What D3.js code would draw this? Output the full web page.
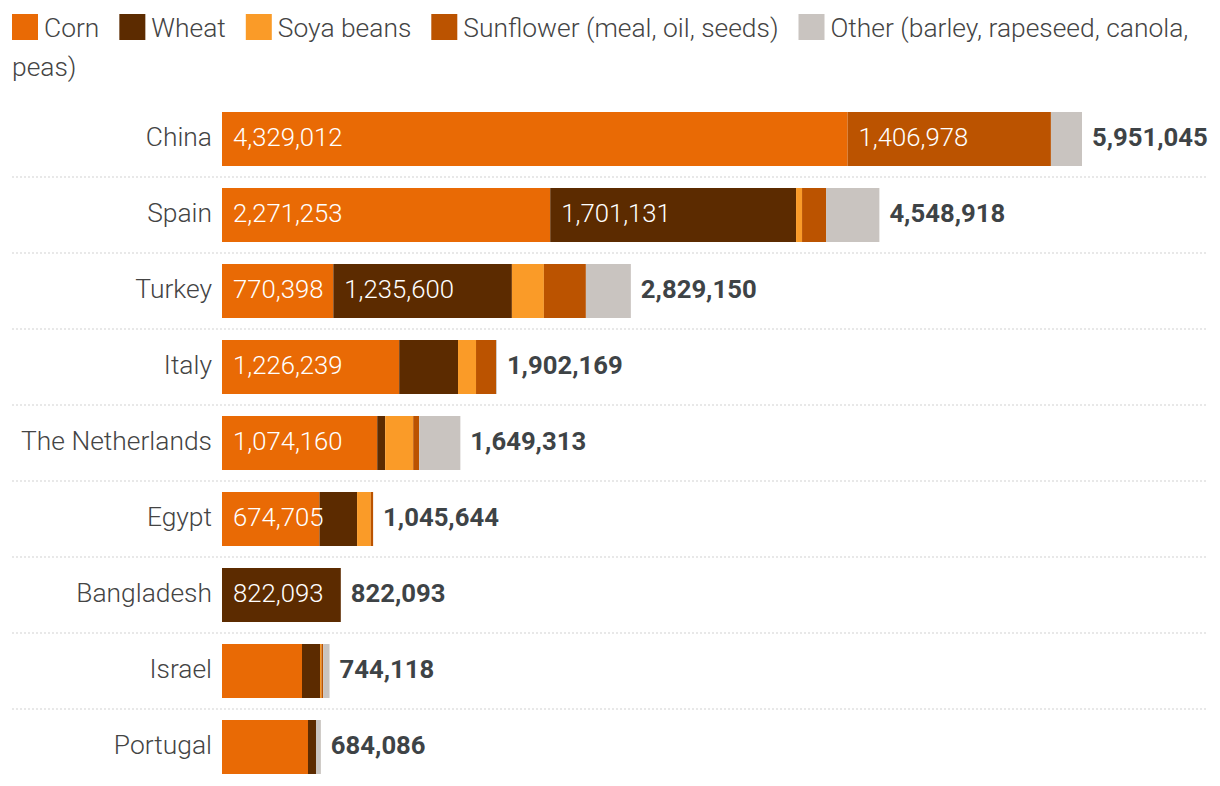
<!DOCTYPE html>
<html>
<head>
<meta charset="utf-8">
<script src="https://cdn.jsdelivr.net/npm/d3@7"></script>
<style>
  html, body { margin: 0; padding: 0; background: #fff; }
  svg { display: block; font-family: Roboto, "Noto Sans", sans-serif; }
</style>
</head>
<body>
<svg id="chart" width="1220" height="786"></svg>
<script>
const countries = ["China", "Spain", "Turkey", "Italy", "The Netherlands", "Egypt", "Bangladesh", "Israel", "Portugal"];
const seriesNames = ["Corn", "Wheat", "Soya beans", "Sunflower (meal, oil, seeds)", "Other (barley, rapeseed, canola, peas)"];
const seriesColors = ["#e96a05", "#5c2b00", "#fa9b28", "#bb5300", "#c9c4c0"];
const corn      = [4329012, 2271253,  770398, 1226239, 1074160, 674705,      0, 553600, 595000];
const wheat     = [      0, 1701131, 1235600,  407000,   55000, 260000, 822093, 124600,  55400];
const soya      = [      0,   41500,  221400,  124600,  193800,  95000,      0,  10000,      0];
const sunflower = [1406978,  166000,  290600,  138400,   41500,  15939,      0,  12000,      0];
const other     = [ 215055,  369034,  311152,    5930,  284853,      0,      0,  43918,  33686];
const totals    = [5951045, 4548918, 2829150, 1902169, 1649313, 1045644, 822093, 744118, 684086];

const seriesValues = [corn, wheat, soya, sunflower, other];
const keys = ["corn", "wheat", "soya", "sunflower", "other"];
const rows = countries.map((c, i) => {
  const r = { country: c, total: totals[i] };
  keys.forEach((k, j) => r[k] = seriesValues[j][i]);
  return r;
});

const svg = d3.select("#chart");
const fmt = d3.format(",");
const FS_TXT = 26.4;
const FS_NUM = 25.7;
const DY = "0.26em";

// ---- Legend with wrapping ----
const legend = svg.append("g").attr("class", "legend");
const maxX = 1208;
let cx = 12, line = 0;
const lineH = 39, sw = 26, baseY = 14;
function measure(t) {
  const tmp = legend.append("text").attr("font-size", FS_TXT).attr("font-weight", 300).text(t);
  const w = tmp.node().getComputedTextLength();
  tmp.remove();
  return w;
}
function addText(xp, yp, t) {
  legend.append("text").attr("x", xp).attr("y", yp)
    .attr("font-size", FS_TXT).attr("font-weight", 300).attr("fill", "#444").text(t);
}
seriesNames.forEach((name, i) => {
  if (cx + sw + 6 + measure(name.split(" ")[0]) > maxX) { cx = 12; line++; }
  legend.append("rect")
    .attr("x", cx).attr("y", baseY + line * lineH)
    .attr("width", sw).attr("height", sw)
    .attr("fill", seriesColors[i]);
  cx += sw + 6;
  const words = name.split(" ");
  let current = "";
  let startX = cx;
  words.forEach(w => {
    const trial = current ? current + " " + w : w;
    if (startX + measure(trial) > maxX && current) {
      addText(startX, baseY + line * lineH + 23, current);
      line++; startX = 12; current = w;
    } else {
      current = trial;
    }
  });
  addText(startX, baseY + line * lineH + 23, current);
  cx = startX + measure(current) + 20;
});

// ---- Scales ----
const x = d3.scaleLinear().domain([0, d3.max(totals)]).range([222, 1082]);
const y = d3.scaleBand().domain(countries).range([101, 785])
  .paddingInner(22 / 76).paddingOuter(11 / 76);

// separators
svg.append("g").selectAll("line")
  .data(countries.slice(1))
  .join("line")
  .attr("x1", 12).attr("x2", 1208)
  .attr("y1", d => y(d) - y.step() * (22 / 76) / 2)
  .attr("y2", d => y(d) - y.step() * (22 / 76) / 2)
  .attr("stroke", "#d2d2d2").attr("stroke-width", 1.2)
  .attr("stroke-dasharray", "2,2");

// stacked bars
const stack = d3.stack().keys(keys);
const stacked = stack(rows);
const gBars = svg.append("g");
stacked.forEach((layer, li) => {
  gBars.append("g").attr("fill", seriesColors[li])
    .selectAll("rect")
    .data(layer)
    .join("rect")
    .attr("x", d => x(d[0]))
    .attr("y", d => y(d.data.country))
    .attr("width", d => Math.max(0, x(d[1]) - x(d[0])))
    .attr("height", y.bandwidth());
});

// inside labels
stacked.forEach((layer, li) => {
  gBars.append("g")
    .selectAll("text")
    .data(layer.filter(d => x(d[1]) - x(d[0]) > 90))
    .join("text")
    .attr("x", d => x(d[0]) + 11)
    .attr("y", d => y(d.data.country) + y.bandwidth() / 2)
    .attr("dy", DY)
    .attr("font-size", FS_NUM).attr("font-weight", 300)
    .attr("fill", "#fff")
    .text(d => fmt(d[1] - d[0]));
});

// category labels
svg.append("g").selectAll("text")
  .data(rows)
  .join("text")
  .attr("x", 212)
  .attr("y", d => y(d.country) + y.bandwidth() / 2)
  .attr("dy", DY)
  .attr("text-anchor", "end")
  .attr("font-size", FS_TXT).attr("font-weight", 300)
  .attr("fill", "#444")
  .text(d => d.country);

// totals
svg.append("g").selectAll("text")
  .data(rows)
  .join("text")
  .attr("x", d => x(d.total) + 10)
  .attr("y", d => y(d.country) + y.bandwidth() / 2)
  .attr("dy", "0.28em")
  .attr("font-size", FS_NUM).attr("font-weight", 700)
  .attr("fill", "#3e4346")
  .text(d => fmt(d.total));
</script>
</body>
</html>
